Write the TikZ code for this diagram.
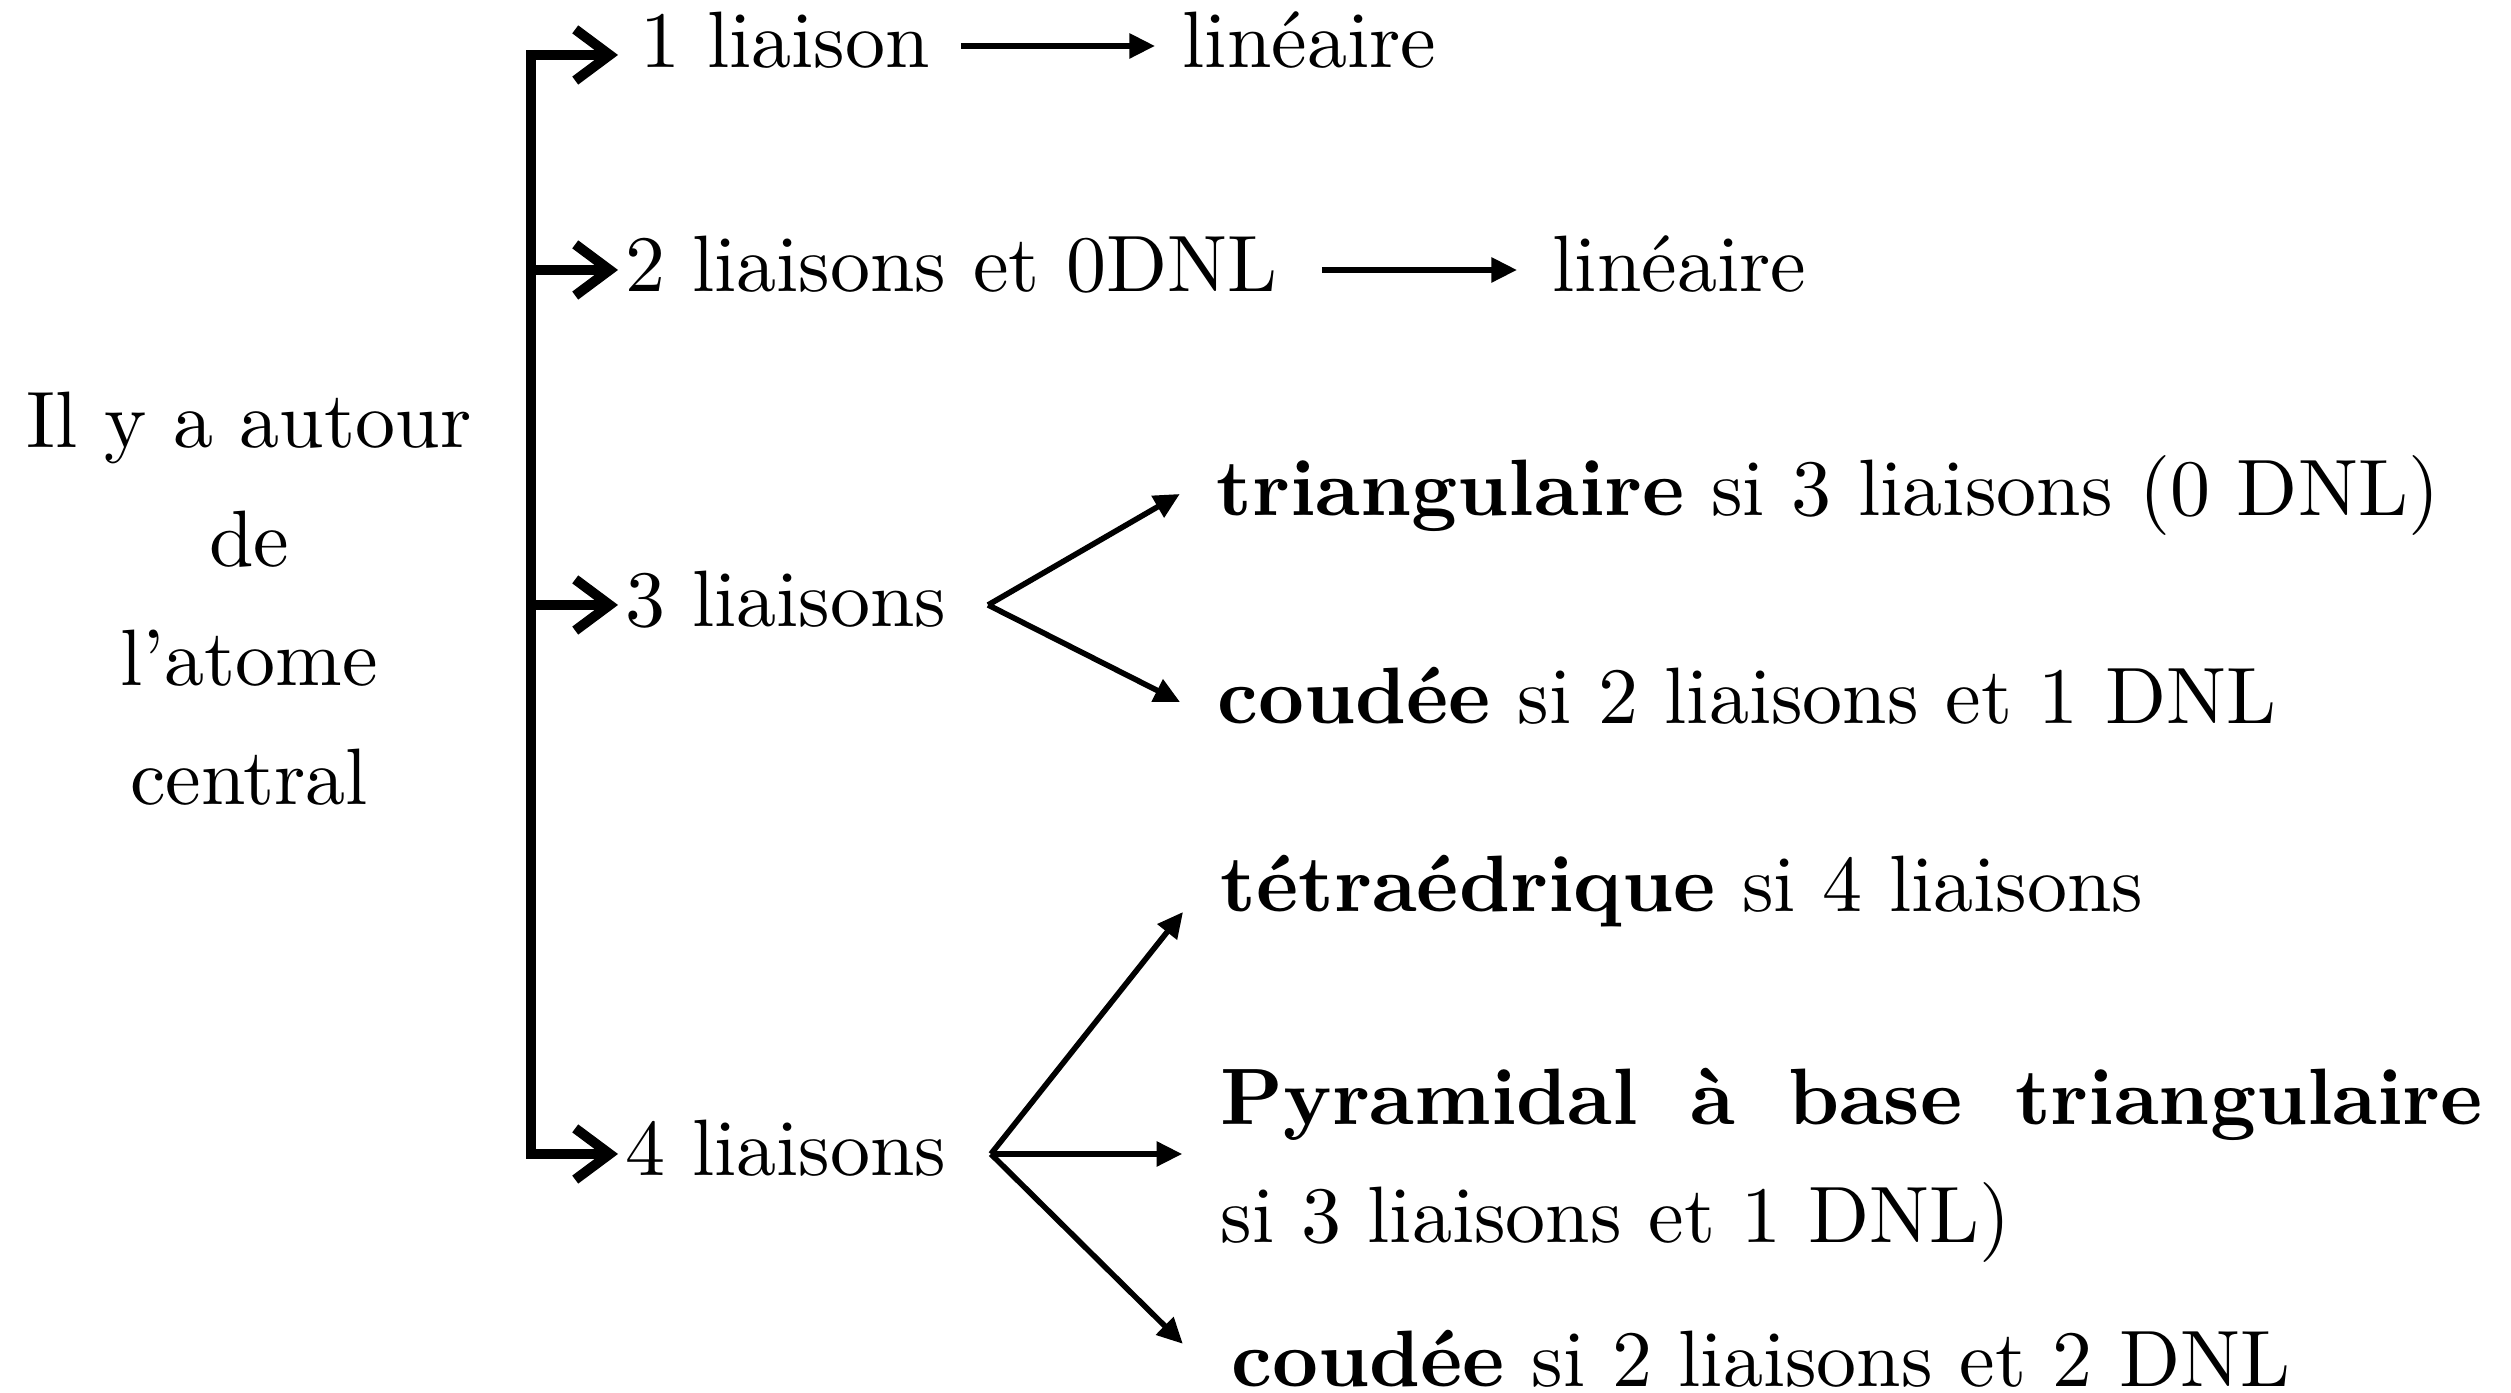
\documentclass[tikz,border=0pt]{standalone}
\usepackage{fontspec}
\usetikzlibrary{arrows.meta}

\tikzset{
  brk/.style={line width=1.25pt, -{Straight Barb[length=4.3pt,width=6.4pt]}},
  thinarrow/.style={line width=0.7pt, -{Triangle[length=3.2pt,width=3pt]}},
  rowtext/.style={anchor=base west, inner ysep=0pt, inner xsep=0.75pt,
                  text height=7pt, text depth=1.5pt},
  leaf/.style={anchor=base west, inner sep=0pt, text height=7pt, text depth=1.5pt},
}

\begin{document}
\begin{tikzpicture}[x=0.125pt, y=-0.125pt, font=\fontsize{10}{14.9}\selectfont]
\useasboundingbox (0,0) rectangle (2511,1393);

% subject, left (base anchor sits on the last line)
\node[align=center, anchor=base, inner sep=0pt] (q) at (249,805)
  {Il y a autour\\de\\l'atome\\central};

% first level
\node[rowtext, inner xsep=2.6pt] (r1) at (618,68) {1 liaison};
\node[rowtext] (r2) at (618,292) {2 liaisons et 0DNL};
\node[rowtext] (r3) at (618,627) {3 liaisons};
\node[rowtext] (r4) at (618,1176) {4 liaisons};

% bracket
\coordinate (sp) at (531,55);
\coordinate (sb) at (531,1154);
\draw[brk] (sb) -- (sp) -- (sp -| r1.west);
\draw[brk] (sp |- r2.west) -- (r2.west);
\draw[brk] (sp |- r3.west) -- (r3.west);
\draw[brk] (sp) -- (sb) -- (r4.west);

% results of 1 and 2
\node[leaf] (l1) at (1181,68) {linéaire};
\node[leaf] (l2) at (1551,292) {linéaire};
\draw[thinarrow, shorten <=1.1pt, shorten >=3.25pt] (r1.east) -- (l1.west);
\draw[thinarrow, shorten <=4.6pt, shorten >=4.25pt] (r2.east) -- (l2.west);

% results of 3
\node[leaf] (tri) at (1215,516) {\textbf{triangulaire} si 3 liaisons (0 DNL)};
\node[leaf] (cou1) at (1216,724) {\textbf{coudée} si 2 liaisons et 1 DNL};
\coordinate (f3) at ([xshift=4.25pt]r3.east);
\coordinate (t31) at ([xshift=-4.4pt]tri.west);
\coordinate (t32) at ([xshift=-4.5pt]cou1.west);
\draw[thinarrow] (f3) -- (t31);
\draw[thinarrow] (f3) -- (t32);

% results of 4
\node[leaf] (tet) at (1219,912) {\textbf{tétraédrique} si 4 liaisons};
\node[anchor=base west, inner sep=0pt] (pyr) at (1219,1125)
  {\parbox[t]{157.8pt}{\fontsize{10}{14.7}\selectfont
   \textbf{Pyramidal à base triangulaire}\linebreak si 3 liaisons et 1 DNL)}};
\node[leaf] (cou2) at (1230,1387) {\textbf{coudée} si 2 liaisons et 2 DNL};
\coordinate (f4) at ([xshift=4.6pt]r4.east);
\coordinate (t41) at ([xshift=-4.5pt]tet.base west);
\coordinate (t42) at ([xshift=-4.6pt]pyr.base west |- f4);
\coordinate (t43) at ([xshift=-5.9pt,yshift=5.4pt]cou2.base west);
\draw[thinarrow] (f4) -- (t41);
\draw[thinarrow] (f4) -- (t42);
\draw[thinarrow] (f4) -- (t43);
\end{tikzpicture}
\end{document}
